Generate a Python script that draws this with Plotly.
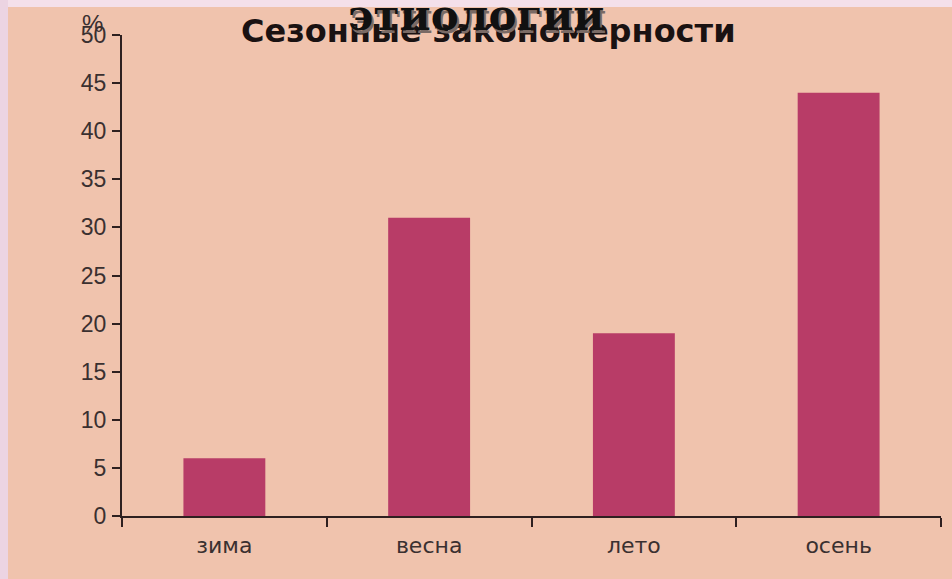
import plotly.graph_objects as go

# ---- data ----
categories = ["зима", "весна", "лето", "осень"]
values = [6, 31, 19, 44]
y_ticks = list(range(0, 55, 5))
title_text = "Сезонные закономерности"
overlay_text = "этиологии"
unit_text = "%"

# ---- style ----
W, H = 952, 579
ML, MR, MT, MB = 122, 11, 35, 63
PW, PH = W - ML - MR, H - MT - MB
PEACH = "#f0c3ad"
BAR = "#b83c67"
AXIS = "#2e2020"
TXT = "#3a3030"


def px(x):
    return (x - ML) / PW


def py(y):
    return 1 - (y - MT) / PH


fig = go.Figure()
fig.add_trace(go.Bar(x=categories, y=values, marker=dict(color=BAR, line=dict(width=0)),
                     width=0.4, hoverinfo="skip"))

fig.update_layout(
    width=W, height=H,
    margin=dict(l=ML, r=MR, t=MT, b=MB, pad=0),
    paper_bgcolor=PEACH, plot_bgcolor=PEACH,
    showlegend=False,
    xaxis=dict(type="category", range=[-0.5, 3.5], tickson="boundaries",
               ticks="outside", ticklen=9, tickwidth=2, tickcolor=AXIS,
               showline=True, linecolor=AXIS, linewidth=2, showgrid=False,
               tickfont=dict(family="DejaVu Sans", size=22, color=TXT),
               ticklabelstandoff=9, fixedrange=True),
    yaxis=dict(range=[0, 50], tickvals=y_ticks, ticks="outside", ticklen=8,
               tickwidth=2, tickcolor=AXIS, showline=True, linecolor=AXIS,
               linewidth=2, showgrid=False, zeroline=False,
               tickfont=dict(family="Liberation Sans", size=23, color=TXT),
               ticklabelstandoff=1, fixedrange=True),
)

# outer pink frame bands
fig.add_shape(type="rect", xref="paper", yref="paper", x0=px(0), x1=px(W), y0=py(0), y1=py(7),
              fillcolor="#f4e0ea", line=dict(width=0), layer="below")
fig.add_shape(type="rect", xref="paper", yref="paper", x0=px(0), x1=px(8), y0=py(H), y1=py(0),
              fillcolor="#ecd4e2", line=dict(width=0), layer="below")

# titles
fig.add_annotation(text=title_text, xref="paper", yref="paper", x=px(488), y=py(31),
                   xanchor="center", yanchor="middle", showarrow=False,
                   font=dict(family="DejaVu Sans", size=32, color="#1a1212", weight="bold"))
fig.add_annotation(text=overlay_text, xref="paper", yref="paper", x=px(478), y=py(18),
                   xanchor="center", yanchor="middle", showarrow=False,
                   font=dict(family="DejaVu Serif", size=42, color="#7a6a65", weight="bold"))
fig.add_annotation(text=overlay_text, xref="paper", yref="paper", x=px(476), y=py(16),
                   xanchor="center", yanchor="middle", showarrow=False,
                   font=dict(family="DejaVu Serif", size=42, color="#111111", weight="bold"))
fig.add_annotation(text=unit_text, xref="paper", yref="paper", x=px(92), y=py(23),
                   xanchor="center", yanchor="middle", showarrow=False,
                   font=dict(family="Liberation Sans", size=24, color=TXT))

fig.write_html("out.html")
